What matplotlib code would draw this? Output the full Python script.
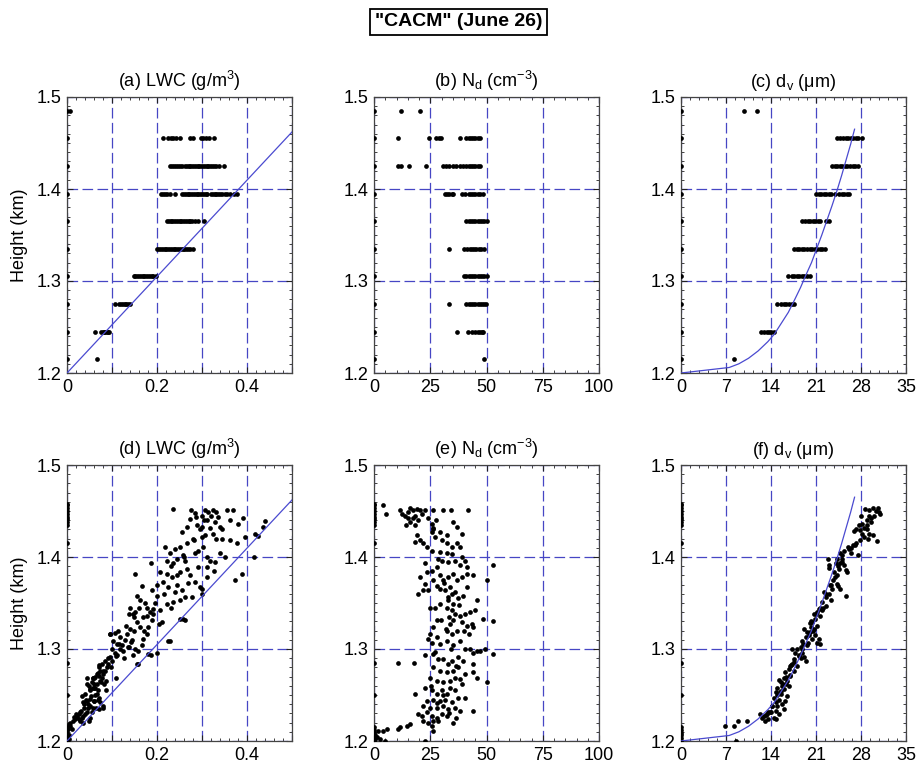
import matplotlib
matplotlib.use('Agg')
import matplotlib.pyplot as plt
from matplotlib.ticker import MultipleLocator, FixedLocator, FixedFormatter

plt.rcParams['font.family'] = ['Liberation Sans', 'DejaVu Sans']
plt.rcParams['mathtext.fontset'] = 'custom'
plt.rcParams['mathtext.rm'] = 'Liberation Sans'
plt.rcParams['mathtext.it'] = 'Liberation Sans:italic'
plt.rcParams['mathtext.default'] = 'regular'

# ---------------- data: top row (binned by height) ----------------
heights_top = [1.215, 1.245, 1.275, 1.305, 1.335, 1.365, 1.395, 1.425, 1.455, 1.485]

a_rows = [
    [0.066],
    [0.063, 0.075, 0.079, 0.082, 0.085, 0.088, 0.091, 0.093],
    [0.106, 0.116, 0.120, 0.124, 0.128, 0.132, 0.136, 0.140],
    [0.148, 0.152, 0.156, 0.160, 0.164, 0.168, 0.172, 0.176, 0.180, 0.184, 0.188, 0.192, 0.197],
    [0.201, 0.205, 0.209, 0.213, 0.217, 0.221, 0.225, 0.229, 0.233, 0.237, 0.241, 0.245, 0.249,
     0.253, 0.257, 0.261, 0.265, 0.269, 0.273, 0.279],
    [0.222, 0.226, 0.230, 0.234, 0.238, 0.242, 0.246, 0.250, 0.254, 0.258, 0.262, 0.266, 0.270,
     0.274, 0.278, 0.284, 0.290, 0.304],
    [0.209, 0.214, 0.218, 0.223, 0.228, 0.240, 0.256, 0.260, 0.264, 0.268, 0.272, 0.276,
     0.280, 0.284, 0.288, 0.292, 0.296, 0.300, 0.304, 0.308, 0.312, 0.320, 0.324, 0.328, 0.332,
     0.336, 0.340, 0.344, 0.350, 0.356, 0.362, 0.370, 0.378],
    [0.229, 0.234, 0.238, 0.242, 0.246, 0.250, 0.256, 0.262, 0.266, 0.270, 0.274, 0.278, 0.282,
     0.286, 0.290, 0.294, 0.298, 0.302, 0.306, 0.310, 0.314, 0.318, 0.322, 0.326, 0.330, 0.338, 0.349],
    [0.214, 0.224, 0.230, 0.236, 0.242, 0.251, 0.273, 0.279, 0.297, 0.303, 0.309, 0.315, 0.327],
    [0.006],
]

b_rows = [
    [48.9],
    [37.0, 41.9, 43.5, 45.0, 46.0, 47.0, 48.0, 48.6],
    [33.3, 40.9, 42.0, 43.0, 44.0, 45.0, 46.0, 47.0, 48.0, 49.0, 49.8],
    [40.0, 41.0, 42.0, 43.0, 44.0, 45.0, 46.0, 47.0, 48.0, 49.0, 50.0],
    [33.3, 40.0, 41.5, 42.5, 43.5, 44.5, 45.5, 46.5, 47.5, 48.9],
    [40.9, 42.0, 43.0, 44.0, 45.0, 46.0, 47.0, 48.0, 49.0, 50.0],
    [31.6, 32.5, 33.5, 34.5, 35.3, 39.0, 40.5, 42.0, 43.0, 44.0, 45.0, 46.0, 47.0, 48.6],
    [10.8, 11.8, 15.7, 23.1, 30.5, 32.0, 33.5, 35.0, 36.5, 38.0, 39.5, 41.0, 42.0, 43.0, 44.0,
     45.0, 46.0, 47.1],
    [10.5, 24.6, 27.6, 29.0, 29.6, 38.0, 40.9, 42.0, 43.0, 44.0, 45.0, 46.0, 47.1],
    [11.9, 20.4],
]

c_rows = [
    [8.3],
    [12.4, 12.9, 13.3, 13.7, 14.0, 14.5],
    [15.0, 15.6, 16.0, 16.4, 16.8, 17.2, 17.6],
    [16.6, 17.2, 17.6, 18.0, 18.4, 18.8, 19.2, 19.6, 20.1],
    [17.6, 18.0, 18.4, 18.8, 19.2, 19.6, 20.0, 20.4, 20.8, 21.2, 21.6, 22.0, 22.4],
    [18.9, 19.3, 19.7, 20.1, 20.5, 20.9, 21.3, 21.7, 22.5, 23.0],
    [21.0, 21.4, 21.8, 22.2, 22.6, 23.0, 23.4, 24.0, 24.6, 25.0, 25.4, 25.8, 26.2],
    [23.5, 23.9, 24.3, 24.7, 25.1, 25.5, 25.9, 26.3, 26.7, 27.1, 27.5],
    [24.3, 24.8, 25.2, 25.6, 26.0, 26.4, 26.8, 27.2, 27.6, 28.1],
    [9.8, 11.75],
]

# ---------------- data: bottom row (individual samples) ----------------
zero_h_bottom = [1.200, 1.203, 1.206, 1.209, 1.212, 1.215, 1.250, 1.285, 1.415,
                 1.435, 1.438, 1.441, 1.444, 1.447, 1.450, 1.453, 1.456, 1.458]

d_x = [0.236, 0.275, 0.284, 0.273, 0.287, 0.266, 0.255, 0.288, 0.299, 0.306, 0.314, 0.325,
       0.332, 0.321, 0.336, 0.310, 0.329, 0.318, 0.306, 0.325, 0.340, 0.355, 0.369, 0.362,
       0.380, 0.390, 0.395, 0.362, 0.377, 0.417, 0.425, 0.436, 0.440, 0.415, 0.388, 0.373,
       0.299, 0.303, 0.292, 0.284, 0.266, 0.251, 0.240, 0.218, 0.229, 0.244, 0.258, 0.262,
       0.236, 0.222, 0.207, 0.186, 0.151, 0.222, 0.233, 0.251, 0.266, 0.273, 0.284, 0.295,
       0.299, 0.310, 0.318, 0.310, 0.329, 0.340, 0.351, 0.292, 0.214, 0.225, 0.240, 0.255,
       0.262, 0.277, 0.251, 0.236, 0.222, 0.199, 0.188, 0.207, 0.192, 0.177, 0.162, 0.155,
       0.166, 0.177, 0.188, 0.210, 0.251, 0.262, 0.225, 0.140, 0.137, 0.148, 0.155, 0.162,
       0.170, 0.177, 0.181, 0.148, 0.133, 0.118, 0.114, 0.096, 0.103, 0.111, 0.122, 0.137,
       0.151, 0.166, 0.181, 0.199, 0.155, 0.107, 0.096, 0.085, 0.078, 0.089, 0.074, 0.066,
       0.081, 0.059, 0.074, 0.055, 0.044, 0.048, 0.063, 0.052, 0.066, 0.041, 0.033, 0.044,
       0.059, 0.074, 0.081, 0.070, 0.052, 0.037, 0.026, 0.041, 0.055, 0.033, 0.018, 0.048,
       0.007, 0.011, 0.004, 0.004, 0.007, 0.095, 0.106, 0.116, 0.124, 0.135, 0.146, 0.157,
       0.112, 0.101, 0.090, 0.079, 0.068, 0.057, 0.072, 0.087, 0.075, 0.061, 0.050, 0.068,
       0.053, 0.072, 0.042, 0.061, 0.079, 0.064, 0.046, 0.031, 0.020, 0.035, 0.050, 0.027,
       0.013, 0.005, 0.002, 0.109, 0.087, 0.157, 0.187, 0.228, 0.257, 0.190, 0.146, 0.283,
       0.245, 0.268, 0.300, 0.312, 0.344, 0.305, 0.326, 0.231, 0.204, 0.169, 0.142, 0.127,
       0.098, 0.083, 0.061, 0.047, 0.036, 0.058, 0.070, 0.029, 0.015,
       0.045, 0.058, 0.067, 0.078, 0.085, 0.070, 0.062, 0.050, 0.063, 0.038, 0.045, 0.058,
       0.068, 0.028, 0.022, 0.035, 0.090, 0.100, 0.108, 0.118, 0.128, 0.140, 0.152, 0.160,
       0.168, 0.174, 0.145, 0.130, 0.185, 0.195, 0.200, 0.215, 0.230, 0.245, 0.260, 0.280,
       0.295, 0.300, 0.330, 0.345]
d_h = [1.452, 1.451, 1.448, 1.441, 1.444, 1.433, 1.427, 1.435, 1.433, 1.451, 1.449, 1.451,
       1.449, 1.445, 1.444, 1.440, 1.438, 1.431, 1.424, 1.425, 1.433, 1.451, 1.451, 1.440,
       1.436, 1.442, 1.422, 1.418, 1.415, 1.425, 1.423, 1.433, 1.439, 1.400, 1.382, 1.375,
       1.422, 1.411, 1.407, 1.404, 1.415, 1.411, 1.409, 1.411, 1.404, 1.398, 1.402, 1.396,
       1.393, 1.396, 1.384, 1.393, 1.382, 1.382, 1.378, 1.384, 1.387, 1.380, 1.373, 1.367,
       1.360, 1.389, 1.396, 1.400, 1.395, 1.404, 1.400, 1.389, 1.373, 1.367, 1.362, 1.364,
       1.356, 1.356, 1.353, 1.351, 1.349, 1.358, 1.364, 1.342, 1.338, 1.345, 1.353, 1.358,
       1.369, 1.336, 1.331, 1.329, 1.333, 1.331, 1.309, 1.345, 1.338, 1.335, 1.329, 1.324,
       1.320, 1.316, 1.324, 1.320, 1.316, 1.313, 1.320, 1.316, 1.309, 1.305, 1.304, 1.302,
       1.300, 1.304, 1.295, 1.296, 1.284, 1.296, 1.291, 1.287, 1.284, 1.280, 1.276, 1.273,
       1.273, 1.269, 1.265, 1.264, 1.269, 1.260, 1.258, 1.255, 1.251, 1.251, 1.249, 1.244,
       1.244, 1.242, 1.236, 1.235, 1.238, 1.236, 1.229, 1.229, 1.231, 1.225, 1.224, 1.222,
       1.220, 1.213, 1.207, 1.202, 1.216, 1.316, 1.317, 1.305, 1.298, 1.302, 1.294, 1.298,
       1.293, 1.287, 1.284, 1.276, 1.274, 1.269, 1.271, 1.265, 1.264, 1.258, 1.256, 1.255,
       1.249, 1.247, 1.245, 1.244, 1.238, 1.236, 1.236, 1.233, 1.229, 1.227, 1.225, 1.224,
       1.222, 1.218, 1.213, 1.269, 1.255, 1.284, 1.294, 1.309, 1.333, 1.343, 1.338, 1.418,
       1.380, 1.372, 1.365, 1.378, 1.420, 1.440, 1.385, 1.345, 1.327, 1.311, 1.308, 1.290,
       1.280, 1.262, 1.262, 1.240, 1.242, 1.268, 1.283, 1.232, 1.226,
       1.262, 1.258, 1.262, 1.268, 1.276, 1.280, 1.270, 1.246, 1.250, 1.240, 1.232, 1.236,
       1.245, 1.222, 1.226, 1.220, 1.290, 1.300, 1.292, 1.300, 1.310, 1.322, 1.340, 1.345,
       1.335, 1.350, 1.310, 1.325, 1.340, 1.350, 1.370, 1.360, 1.390, 1.370, 1.400, 1.420,
       1.430, 1.445, 1.420, 1.430]

e_x = [3.9, 5.3, 11.6, 12.3, 13.8, 15.3, 16.0, 17.5, 19.0, 20.4, 21.2, 18.2, 17.5, 19.7, 15.3,
       16.0, 18.2, 14.2, 22.7, 26.4, 30.5, 34.2, 41.9, 24.1, 25.6, 26.4, 25.6, 27.1, 29.3, 35.3,
       36.7, 39.0, 32.3, 30.0, 32.3, 34.5, 36.7, 38.2, 19.0, 18.2, 20.4, 21.9, 23.4, 25.6, 29.3,
       32.3, 34.5, 39.0, 40.4, 38.2, 41.2, 36.0, 32.9, 30.0, 27.9, 25.6, 22.7, 23.4, 20.4, 22.7,
       21.6, 19.7, 24.1, 26.4, 29.3, 30.8, 32.9, 35.3, 36.7, 39.0, 41.2, 44.1, 27.9, 29.3, 31.6,
       33.8, 34.5, 32.9, 35.3, 37.5, 39.6, 41.2, 45.6, 50.1, 52.7, 24.9, 27.1, 29.3, 32.3, 34.5,
       36.0, 38.2, 40.4, 42.7, 44.9, 33.5, 35.3, 39.0, 41.2, 43.4, 40.0, 42.3, 44.1, 33.8, 32.3,
       34.5, 36.7, 27.9, 26.4, 24.9, 24.1, 25.6, 27.9, 29.3, 32.3, 35.3, 38.2, 40.4, 42.7, 44.1,
       45.6, 47.1, 49.3, 52.7, 48.6, 52.7, 10.8, 17.8, 22.7, 26.4, 28.6, 30.8, 33.1, 34.5, 37.5,
       39.7, 44.1, 26.4, 29.3, 32.3, 35.3, 37.5, 40.4, 44.1, 45.6, 50.1, 24.9, 27.9, 30.8, 33.8,
       36.0, 38.2, 18.2, 22.7, 25.6, 27.9, 30.0, 32.3, 33.8, 36.0, 37.5, 40.4, 26.4, 23.7, 29.3,
       31.4, 34.5, 21.9, 24.9, 27.9, 30.8, 33.1, 36.0, 38.2, 43.9, 19.7, 21.2, 23.4, 25.6, 27.9,
       30.0, 32.3, 21.9, 24.1, 26.4, 28.6, 35.3, 25.6, 26.4, 16.0, 14.5, 11.6, 10.8, 5.9, 3.9,
       1.9, 0.4, 1.2, 0.4, 2.7, 4.9, 22.7, 26.0, 27.5, 28.3, 31.0, 33.0, 35.8, 37.8, 29.6, 31.8,
       34.0, 36.4, 39.2, 30.5, 28.1, 33.2, 36.6, 25.4, 27.0]
e_h = [1.456, 1.447, 1.451, 1.447, 1.445, 1.449, 1.453, 1.451, 1.452, 1.451, 1.447, 1.445,
       1.442, 1.440, 1.442, 1.438, 1.435, 1.435, 1.451, 1.451, 1.451, 1.451, 1.451, 1.442,
       1.436, 1.431, 1.427, 1.422, 1.427, 1.438, 1.433, 1.425, 1.424, 1.418, 1.415, 1.411,
       1.415, 1.411, 1.424, 1.416, 1.418, 1.415, 1.411, 1.407, 1.405, 1.404, 1.403, 1.400,
       1.396, 1.391, 1.389, 1.396, 1.395, 1.396, 1.389, 1.385, 1.393, 1.384, 1.378, 1.371,
       1.364, 1.360, 1.364, 1.375, 1.380, 1.375, 1.378, 1.382, 1.375, 1.378, 1.382, 1.380,
       1.369, 1.365, 1.364, 1.367, 1.360, 1.353, 1.349, 1.355, 1.358, 1.367, 1.353, 1.375,
       1.391, 1.345, 1.345, 1.349, 1.345, 1.342, 1.338, 1.336, 1.338, 1.340, 1.342, 1.335,
       1.331, 1.329, 1.325, 1.327, 1.320, 1.316, 1.324, 1.327, 1.320, 1.316, 1.320, 1.331,
       1.324, 1.316, 1.311, 1.307, 1.313, 1.305, 1.309, 1.304, 1.309, 1.300, 1.300, 1.296,
       1.298, 1.298, 1.300, 1.295, 1.333, 1.330, 1.285, 1.285, 1.293, 1.295, 1.289, 1.289,
       1.284, 1.287, 1.291, 1.287, 1.284, 1.280, 1.276, 1.275, 1.276, 1.280, 1.273, 1.275,
       1.269, 1.264, 1.269, 1.265, 1.264, 1.265, 1.269, 1.267, 1.251, 1.258, 1.255, 1.251,
       1.255, 1.251, 1.258, 1.255, 1.247, 1.247, 1.245, 1.244, 1.244, 1.245, 1.242, 1.238,
       1.236, 1.236, 1.238, 1.235, 1.236, 1.233, 1.233, 1.229, 1.227, 1.231, 1.227, 1.225,
       1.229, 1.227, 1.222, 1.220, 1.222, 1.222, 1.220, 1.216, 1.211, 1.218, 1.216, 1.215,
       1.213, 1.213, 1.211, 1.211, 1.207, 1.204, 1.202, 1.202, 1.200, 1.200, 1.430, 1.440,
       1.398, 1.372, 1.357, 1.362, 1.348, 1.332, 1.322, 1.300, 1.282, 1.262, 1.250, 1.241,
       1.230, 1.225, 1.260, 1.297]

f_x = [28.7, 29.3, 29.8, 30.3, 30.8, 30.7, 30.0, 29.5, 28.9, 28.2, 27.7, 27.9, 28.5, 29.0,
       29.3, 28.5, 29.8, 30.5, 29.1, 27.9, 27.2, 26.7, 26.0, 25.4, 27.5, 26.4, 25.1, 24.8, 24.3,
       24.1, 24.8, 25.4, 25.9, 24.6, 23.8, 23.0, 24.2, 23.7, 24.3, 24.8, 25.6, 23.5, 23.0, 22.5,
       23.3, 22.0, 22.5, 21.5, 21.2, 20.7, 21.7, 20.9, 20.4, 21.2, 20.7, 20.2, 19.6, 19.1, 19.9,
       20.9, 21.5, 21.7, 21.2, 20.4, 19.4, 18.9, 19.6, 18.6, 18.1, 17.3, 18.8, 18.3, 17.8, 19.1,
       17.5, 19.4, 17.3, 18.0, 16.8, 17.5, 16.2, 17.0, 16.0, 16.5, 15.5, 15.7, 16.8, 14.9, 16.0,
       14.7, 15.5, 16.5, 16.2, 15.2, 14.5, 15.7, 14.9, 14.2, 16.0, 14.7, 13.9, 15.2, 13.4, 12.9,
       14.4, 13.6, 13.1, 14.7, 12.6, 12.3, 8.3, 6.9, 8.8, 10.2, 8.6, 23.0, 22.8, 26.9, 28.0,
       29.6, 25.0, 23.9, 22.2, 21.9, 20.0, 19.0, 18.4, 17.1, 16.3, 15.4, 14.1, 13.6, 24.5,
       21.0, 20.1, 18.8, 17.6, 16.9, 15.9, 15.0, 27.0, 29.0, 26.2, 25.6, 23.4, 22.1, 20.5,
       13.2, 14.0, 14.8, 15.6, 16.3, 15.2, 16.9, 18.7, 19.8, 20.2, 21.6, 22.6, 23.2, 24.4,
       25.0, 26.5, 28.2, 29.2, 31.0, 27.2]
f_h = [1.452, 1.451, 1.453, 1.450, 1.449, 1.453, 1.445, 1.442, 1.440, 1.436, 1.435, 1.429,
       1.431, 1.435, 1.425, 1.422, 1.424, 1.417, 1.420, 1.418, 1.415, 1.413, 1.411, 1.407,
       1.402, 1.404, 1.402, 1.404, 1.398, 1.393, 1.393, 1.391, 1.384, 1.387, 1.384, 1.391,
       1.380, 1.375, 1.371, 1.365, 1.358, 1.365, 1.360, 1.356, 1.353, 1.351, 1.347, 1.344,
       1.340, 1.338, 1.336, 1.333, 1.329, 1.325, 1.322, 1.324, 1.318, 1.322, 1.315, 1.315,
       1.311, 1.305, 1.307, 1.311, 1.313, 1.309, 1.304, 1.302, 1.300, 1.300, 1.296, 1.293,
       1.296, 1.291, 1.289, 1.287, 1.284, 1.282, 1.278, 1.276, 1.275, 1.271, 1.269, 1.265,
       1.264, 1.260, 1.260, 1.258, 1.256, 1.253, 1.251, 1.249, 1.244, 1.245, 1.247, 1.240,
       1.238, 1.238, 1.235, 1.233, 1.231, 1.229, 1.229, 1.227, 1.225, 1.224, 1.222, 1.224,
       1.225, 1.229, 1.216, 1.216, 1.222, 1.222, 1.200, 1.388, 1.398, 1.428, 1.445, 1.438,
       1.395, 1.378, 1.362, 1.342, 1.328, 1.305, 1.292, 1.283, 1.270, 1.253, 1.238, 1.232,
       1.369, 1.338, 1.318, 1.300, 1.286, 1.272, 1.262, 1.250, 1.413, 1.430, 1.409, 1.386,
       1.370, 1.345, 1.320,
       1.228, 1.232, 1.242, 1.254, 1.262, 1.266, 1.282, 1.290, 1.306, 1.330, 1.345, 1.360,
       1.370, 1.390, 1.398, 1.410, 1.425, 1.445, 1.447, 1.430]

# model curves
line_a_x = [0.0, 0.5]
line_a_h = [1.200, 1.462]
curve_d = [0.0, 7.5, 9.0, 10.5, 12.0, 13.5, 14.5, 15.6, 16.7, 17.7, 18.6, 19.4, 20.3,
           21.1, 21.9, 22.7, 23.5, 24.3, 25.0, 25.7, 26.4, 27.0]
curve_h = [1.200, 1.206, 1.210, 1.216, 1.224, 1.234, 1.242, 1.254, 1.266, 1.280, 1.293, 1.306,
           1.320, 1.335, 1.350, 1.366, 1.382, 1.399, 1.415, 1.432, 1.449, 1.465]

# ---------------- figure ----------------
fig = plt.figure(figsize=(9.17, 7.64), dpi=100)
W, H = 917.0, 764.0
GRID_C = '#4646c4'
LINE_C = '#4a4ad0'
col_left = [67, 374, 681]
ax_w = 225
row_top = [97, 465]
ax_h = 276

titles = [['(a) LWC (g/m$^{3}$)', '(b) N$_{d}$ (cm$^{-3}$)', '(c) d$_{v}$ (μm)'],
          ['(d) LWC (g/m$^{3}$)', '(e) N$_{d}$ (cm$^{-3}$)', '(f) d$_{v}$ (μm)']]
xlims = [(0, 0.5), (0, 100), (0, 35)]
xmajor = [[0, 0.1, 0.2, 0.3, 0.4, 0.5], [0, 25, 50, 75, 100], [0, 7, 14, 21, 28, 35]]
xlabels = [['0', '', '0.2', '', '0.4', ''], ['0', '25', '50', '75', '100'],
           ['0', '7', '14', '21', '28', '35']]
xminor = [0.02, 5, 1.4]

MS = 3.4

def style(ax, j):
    ax.set_xlim(*xlims[j])
    ax.set_ylim(1.2, 1.5)
    ax.xaxis.set_major_locator(FixedLocator(xmajor[j]))
    ax.xaxis.set_major_formatter(FixedFormatter(xlabels[j]))
    ax.xaxis.set_minor_locator(MultipleLocator(xminor[j]))
    ax.yaxis.set_major_locator(FixedLocator([1.2, 1.3, 1.4, 1.5]))
    ax.yaxis.set_major_formatter(FixedFormatter(['1.2', '1.3', '1.4', '1.5']))
    ax.yaxis.set_minor_locator(MultipleLocator(0.01))
    ax.tick_params(which='both', direction='in', top=True, right=True, labelsize=13,
                   color='#222222')
    ax.tick_params(which='major', length=4, width=0.8, pad=4)
    ax.tick_params(which='minor', length=2, width=0.6)
    ax.grid(True, which='major', color=GRID_C, linestyle=(0, (8.5, 3.5)), linewidth=0.9)
    for s in ax.spines.values():
        s.set_color('#444444')
        s.set_linewidth(0.9)

axes = []
for i in range(2):
    for j in range(3):
        ax = fig.add_axes([col_left[j] / W, 1 - (row_top[i] + ax_h) / H, ax_w / W, ax_h / H])
        style(ax, j)
        ax.set_title(titles[i][j], fontsize=13, pad=7)
        axes.append(ax)

axes[0].set_ylabel('Height (km)', fontsize=13, labelpad=6)
axes[3].set_ylabel('Height (km)', fontsize=13, labelpad=6)

# top row scatter
for ax, rows in zip(axes[:3], [a_rows, b_rows, c_rows]):
    xs, hs = [], []
    for h, row in zip(heights_top, rows):
        xs.extend(row + [0.0])
        hs.extend([h] * (len(row) + 1))
    ax.plot(xs, hs, linestyle='none', marker='o', markersize=MS, color='black',
            markeredgewidth=0, zorder=3)

# bottom row scatter
for ax, xs, hs in zip(axes[3:], [d_x, e_x, f_x], [d_h, e_h, f_h]):
    ax.plot(list(xs) + [0.0] * len(zero_h_bottom), list(hs) + zero_h_bottom,
            linestyle='none', marker='o', markersize=MS, color='black',
            markeredgewidth=0, zorder=3)

# model lines
for ax in (axes[0], axes[3]):
    ax.plot(line_a_x, line_a_h, color=LINE_C, linewidth=0.9, zorder=4)
for ax in (axes[2], axes[5]):
    ax.plot(curve_d, curve_h, color=LINE_C, linewidth=0.9, zorder=4)

fig.text(0.5, 1 - 22 / H, '"CACM" (June 26)', ha='center', va='center', fontsize=14,
         fontweight='bold',
         bbox=dict(boxstyle='square,pad=0.25', facecolor='white', edgecolor='black',
                   linewidth=1.3))

fig.savefig('out.png', dpi=100)
